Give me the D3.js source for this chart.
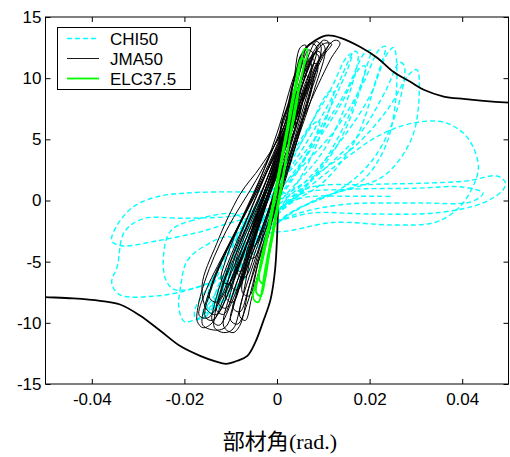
<!DOCTYPE html>
<html>
<head>
<meta charset="utf-8">
<script src="https://d3js.org/d3.v7.min.js"></script>
<style>
  body { margin: 0; background: #fff; }
  text { font-family: "Liberation Sans", Arial, sans-serif; }
</style>
</head>
<body>
<svg width="510" height="457"></svg>
<script>
// ---- data (rad., force) ----
var seriesNames = ["CHI50", "JMA50", "ELC37.5"];
var xTicks = [-0.04, -0.02, 0, 0.02, 0.04];
var xTickLabels = ["-0.04", "-0.02", "0", "0.02", "0.04"];
var yTicks = [-15, -10, -5, 0, 5, 10, 15];
var yTickLabels = ["-15", "-10", "-5", "0", "5", "10", "15"];

// CHI50 : cyan dashed loops
var chi50Loops = [
  [[-0.0150,-9.3],[-0.0120,-7.5],[-0.0060,-3.5],[0.0020,-0.5],[0.0100,1.5],[0.0170,5.0],[0.0215,10.0],[0.0234,12.6],[0.0220,12.3],[0.0185,9.5],[0.0130,6.0],[0.0060,3.0],[-0.0020,0.0],[-0.0100,-3.5],[-0.0145,-7.5]],
  [[-0.0130,-9.0],[-0.0090,-6.0],[-0.0020,-2.5],[0.0080,0.0],[0.0180,1.5],[0.0235,4.5],[0.0258,9.0],[0.0252,12.5],[0.0238,12.0],[0.0200,8.5],[0.0140,5.0],[0.0060,1.5],[-0.0030,-1.5],[-0.0100,-5.0],[-0.0135,-8.0]],
  [[-0.0100,-8.0],[-0.0060,-5.0],[0.0010,-1.5],[0.0120,0.5],[0.0230,2.0],[0.0290,5.0],[0.0307,8.5],[0.0302,10.7],[0.0285,10.3],[0.0240,7.5],[0.0170,4.5],[0.0080,2.0],[-0.0010,-0.5],[-0.0080,-4.5]],
  [[-0.0160,-9.6],[-0.0130,-8.0],[-0.0070,-4.0],[0.0000,-1.0],[0.0080,2.0],[0.0150,6.5],[0.0190,10.5],[0.0202,12.3],[0.0188,12.0],[0.0150,9.0],[0.0100,6.0],[0.0030,2.5],[-0.0050,-1.0],[-0.0120,-5.5],[-0.0158,-8.8]],
  [[-0.0175,-9.7],[-0.0140,-8.5],[-0.0080,-4.5],[-0.0010,-0.5],[0.0060,3.5],[0.0120,8.0],[0.0155,11.0],[0.0162,12.0],[0.0150,11.7],[0.0115,9.0],[0.0060,5.5],[0.0000,2.0],[-0.0070,-2.0],[-0.0140,-6.5],[-0.0178,-9.0]],
  [[-0.0120,-8.5],[-0.0080,-5.5],[-0.0020,-2.0],[0.0060,1.0],[0.0130,4.5],[0.0175,8.5],[0.0190,11.0],[0.0178,10.8],[0.0140,8.0],[0.0080,4.5],[0.0010,1.0],[-0.0060,-3.0],[-0.0115,-7.0]],
  [[-0.0110,-7.0],[-0.0070,-4.5],[0.0000,-1.0],[0.0060,2.5],[0.0100,6.0],[0.0122,9.0],[0.0110,8.8],[0.0070,6.0],[0.0020,2.5],[-0.0050,-1.5],[-0.0105,-5.5]],
  [[-0.0150,-8.5],[-0.0100,-5.5],[-0.0040,-2.0],[0.0030,1.5],[0.0075,4.5],[0.0092,6.5],[0.0080,6.3],[0.0040,4.0],[-0.0020,1.0],[-0.0090,-3.0],[-0.0145,-7.0]],
  [[-0.0060,-4.0],[0.0030,-1.0],[0.0140,1.0],[0.0210,3.5],[0.0260,7.5],[0.0275,11.0],[0.0265,11.3],[0.0235,9.0],[0.0180,5.5],[0.0100,2.5],[0.0010,-0.5]],
  [[-0.0140,-9.0],[-0.0100,-6.5],[-0.0050,-3.0],[0.0020,0.5],[0.0090,3.5],[0.0140,7.0],[0.0175,12.0],[0.0168,12.2],[0.0120,8.5],[0.0060,4.5],[-0.0010,0.5],[-0.0080,-3.5]],
  [[-0.0040,-2.5],[0.0050,0.5],[0.0150,3.5],[0.0220,5.3],[0.0290,6.3],[0.0360,6.4],[0.0410,5.2],[0.0435,2.8],[0.0420,0.9],[0.0390,-0.7],[0.0340,-1.8],[0.0250,-2.0],[0.0120,-1.8],[0.0020,-2.5]],
  [[0.0000,-1.5],[0.0060,0.9],[0.0200,1.3],[0.0300,1.4],[0.0410,1.6],[0.0475,2.0],[0.0493,1.5],[0.0489,0.9],[0.0445,-0.2],[0.0346,-1.0],[0.0200,-1.1],[0.0080,-1.0]],
  [[-0.0020,-2.0],[0.0050,0.5],[0.0150,0.9],[0.0300,1.0],[0.0400,1.1],[0.0445,0.6],[0.0420,-0.1],[0.0300,-0.2],[0.0150,-0.3],[0.0050,-1.0]],
  [[0.0020,0.5],[-0.0080,0.7],[-0.0200,0.6],[-0.0260,0.3],[-0.0310,-0.5],[-0.0345,-2.0],[-0.0357,-3.3],[-0.0335,-3.7],[-0.0260,-3.3],[-0.0170,-2.6],[-0.0080,-1.6],[0.0000,-1.0]],
  [[-0.0030,-0.8],[-0.0100,-1.3],[-0.0200,-1.45],[-0.0290,-1.5],[-0.0330,-2.6],[-0.0345,-5.4],[-0.0357,-6.7],[-0.0340,-7.7],[-0.0260,-7.8],[-0.0190,-7.3],[-0.0128,-6.4],[-0.0080,-5.0]],
  [[-0.0080,-1.3],[-0.0180,-1.6],[-0.0230,-2.5],[-0.0245,-4.5],[-0.0240,-6.5],[-0.0220,-7.3],[-0.0150,-6.8],[-0.0090,-5.5]],
  [[-0.0100,-3.0],[-0.0160,-3.8],[-0.0195,-5.0],[-0.0208,-7.0],[-0.0212,-8.8],[-0.0200,-9.9],[-0.0180,-9.8],[-0.0150,-9.4],[-0.0110,-8.0],[-0.0060,-5.5]]
];
// last piece of the CHI50 record (open end)
var chi50Tail = [[-0.0040,-3.0],[0.0010,-0.5],[0.0060,0.25],[0.0150,0.35],[0.0250,0.33]];

// JMA50 : thin black loops
var jma50Loops = [
  [[-0.0172,-9.9],[-0.0160,-10.4],[-0.0140,-10.0],[-0.0110,-7.5],[-0.0060,-3.0],[-0.0010,1.5],[0.0050,7.5],[0.0100,11.8],[0.0118,12.8],[0.0100,12.8],[0.0060,10.5],[0.0020,6.5],[-0.0040,2.0],[-0.0110,-2.5],[-0.0155,-6.5],[-0.0172,-9.0]],
  [[-0.0160,-10.2],[-0.0130,-10.6],[-0.0110,-10.3],[-0.0085,-7.5],[-0.0045,-3.5],[0.0000,1.0],[0.0060,7.0],[0.0115,11.5],[0.0136,12.9],[0.0125,13.1],[0.0090,11.5],[0.0050,8.0],[0.0000,4.0],[-0.0060,-0.5],[-0.0120,-5.0],[-0.0155,-8.5]],
  [[-0.0135,-10.4],[-0.0115,-10.8],[-0.0095,-10.5],[-0.0075,-8.0],[-0.0040,-4.0],[0.0005,0.5],[0.0040,4.5],[0.0080,9.0],[0.0104,12.4],[0.0095,12.9],[0.0070,11.5],[0.0030,7.0],[-0.0020,2.5],[-0.0075,-2.5],[-0.0115,-6.5],[-0.0135,-9.5]],
  [[-0.0115,-10.3],[-0.0095,-10.8],[-0.0080,-10.2],[-0.0060,-7.0],[-0.0030,-3.0],[0.0010,1.5],[0.0050,6.0],[0.0080,10.0],[0.0095,12.6],[0.0085,13.0],[0.0060,11.0],[0.0025,6.5],[-0.0020,1.5],[-0.0065,-3.5],[-0.0100,-7.5]],
  [[-0.0168,-9.4],[-0.0150,-9.6],[-0.0120,-8.0],[-0.0070,-4.0],[-0.0020,0.5],[0.0030,5.5],[0.0070,10.0],[0.0085,12.6],[0.0070,12.8],[0.0040,10.5],[0.0000,5.5],[-0.0050,0.5],[-0.0110,-4.0],[-0.0155,-7.5]],
  [[-0.0150,-9.0],[-0.0130,-9.3],[-0.0100,-7.0],[-0.0060,-3.0],[-0.0010,2.5],[0.0030,7.5],[0.0055,11.5],[0.0062,12.7],[0.0050,12.5],[0.0035,9.5],[0.0015,6.0],[-0.0035,2.8],[-0.0080,0.5],[-0.0130,-3.5],[-0.0162,-7.0]],
  [[-0.0100,-9.8],[-0.0085,-10.1],[-0.0065,-8.5],[-0.0040,-5.0],[0.0000,0.0],[0.0040,5.0],[0.0075,9.5],[0.0090,11.8],[0.0080,12.0],[0.0055,9.5],[0.0020,5.0],[-0.0025,0.0],[-0.0065,-4.5],[-0.0090,-8.0]],
  [[-0.0100,-7.0],[-0.0085,-7.3],[-0.0060,-5.0],[-0.0020,-1.0],[0.0020,3.5],[0.0055,8.0],[0.0070,10.0],[0.0060,10.2],[0.0035,7.5],[0.0000,3.5],[-0.0045,-1.0],[-0.0085,-5.0]],
  [[-0.0085,-6.0],[-0.0070,-6.3],[-0.0045,-4.0],[-0.0010,0.0],[0.0030,4.5],[0.0055,8.5],[0.0048,8.8],[0.0025,6.0],[-0.0010,2.0],[-0.0050,-2.0],[-0.0075,-4.8]],
  [[-0.0125,-8.5],[-0.0110,-8.8],[-0.0085,-6.5],[-0.0050,-2.5],[-0.0005,2.0],[0.0040,7.0],[0.0075,11.0],[0.0068,11.4],[0.0040,8.5],[0.0005,4.5],[-0.0045,-0.5],[-0.0095,-4.5],[-0.0120,-7.5]],
  [[-0.0140,-9.8],[-0.0125,-10.2],[-0.0100,-8.5],[-0.0065,-5.0],[-0.0020,0.0],[0.0035,6.0],[0.0085,11.0],[0.0112,12.9],[0.0100,13.1],[0.0075,11.5],[0.0040,8.0],[-0.0010,3.5],[-0.0060,-1.0],[-0.0110,-5.5],[-0.0135,-8.5]],
  [[-0.0080,-9.5],[-0.0068,-9.8],[-0.0055,-8.0],[-0.0030,-4.5],[0.0005,0.5],[0.0045,6.0],[0.0080,10.5],[0.0095,12.0],[0.0085,12.2],[0.0060,10.0],[0.0030,6.0],[-0.0015,1.0],[-0.0050,-3.5],[-0.0072,-7.5]],
  [[-0.0065,-4.5],[-0.0050,-4.7],[-0.0025,-2.0],[0.0010,2.5],[0.0040,6.5],[0.0034,6.8],[0.0010,4.0],[-0.0025,0.0],[-0.0055,-3.0]],
  [[-0.0155,-9.5],[-0.0140,-9.8],[-0.0110,-8.0],[-0.0075,-4.5],[-0.0030,0.0],[0.0020,5.5],[0.0060,10.0],[0.0078,12.0],[0.0068,12.3],[0.0045,10.0],[0.0010,6.0],[-0.0040,1.5],[-0.0095,-3.0],[-0.0140,-7.0]],
  [[-0.0090,-5.5],[-0.0078,-5.8],[-0.0055,-3.5],[-0.0020,0.5],[0.0015,4.0],[0.0035,6.5],[0.0028,6.6],[0.0005,3.8],[-0.0030,0.5],[-0.0065,-2.5],[-0.0088,-4.8]],
  [[-0.0110,-8.0],[-0.0095,-8.3],[-0.0070,-5.5],[-0.0040,-2.0],[-0.0005,1.5],[0.0030,5.0],[0.0050,7.5],[0.0043,7.8],[0.0015,5.0],[-0.0025,1.5],[-0.0070,-2.5],[-0.0105,-6.5]],
  [[-0.0075,-7.5],[-0.0060,-7.8],[-0.0040,-5.0],[-0.0010,-1.5],[0.0025,2.5],[0.0055,6.5],[0.0075,9.5],[0.0068,9.7],[0.0040,7.0],[0.0005,3.0],[-0.0030,-1.0],[-0.0060,-4.5]],
  [[-0.0120,-6.5],[-0.0105,-6.8],[-0.0075,-4.5],[-0.0040,-1.0],[0.0000,3.0],[0.0030,6.5],[0.0045,8.5],[0.0038,8.7],[0.0010,5.5],[-0.0030,2.0],[-0.0075,-1.5],[-0.0110,-4.8]],
  [[-0.0060,-3.5],[-0.0048,-3.7],[-0.0025,-1.5],[0.0000,1.5],[0.0025,4.5],[0.0020,4.7],[-0.0005,2.0],[-0.0030,-0.5],[-0.0055,-2.5]],
  [[-0.0130,-9.0],[-0.0115,-9.3],[-0.0090,-7.0],[-0.0055,-3.5],[-0.0015,1.0],[0.0025,5.5],[0.0060,9.5],[0.0080,11.5],[0.0072,11.7],[0.0045,9.0],[0.0010,5.0],[-0.0035,0.5],[-0.0085,-4.0],[-0.0122,-7.5]],
  [[-0.0095,-8.8],[-0.0080,-9.1],[-0.0060,-7.0],[-0.0030,-3.5],[0.0005,0.5],[0.0040,4.5],[0.0070,8.5],[0.0088,11.0],[0.0080,11.2],[0.0055,8.5],[0.0020,4.5],[-0.0020,0.0],[-0.0055,-4.0],[-0.0085,-7.5]],
  [[-0.0145,-8.0],[-0.0130,-8.3],[-0.0100,-6.0],[-0.0060,-2.5],[-0.0020,1.0],[0.0020,4.5],[0.0045,7.5],[0.0038,7.8],[0.0005,4.5],[-0.0040,1.0],[-0.0095,-3.0],[-0.0138,-6.5]]
];

// large black excursion (no legend entry)
var bigExcursion = [
  [-0.0560,-7.8],[-0.0501,-7.9],[-0.0440,-8.0],[-0.0382,-8.2],[-0.0339,-8.5],[-0.0296,-9.4],[-0.0252,-10.65],[-0.0209,-11.9],
  [-0.0166,-12.7],[-0.0133,-13.15],[-0.0110,-13.35],[-0.0086,-13.1],[-0.0064,-12.7],[-0.0047,-11.6],
  [-0.0030,-9.9],[-0.0014,-8.1],[-0.0004,-5.6],[0.0002,-1.0],[0.0004,2.5],[0.0006,5.2],[0.0011,6.4],
  [0.0024,7.8],[0.0033,9.3],[0.0042,10.5],[0.0050,11.7],[0.0066,12.6],[0.0083,13.1],[0.0098,13.4],
  [0.0111,13.5],[0.0137,13.3],[0.0180,12.55],[0.0217,11.65],[0.0252,10.5],[0.0288,9.7],[0.0317,9.05],
  [0.0360,8.5],[0.0403,8.3],[0.0446,8.15],[0.0505,8.0],[0.0560,7.9]
];

// ELC37.5 : green loops
var elc375Loops = [
  [[-0.0048,-8.2],[-0.0040,-8.3],[-0.0025,-5.5],[-0.0005,-1.5],[0.0015,2.5],[0.0035,6.5],[0.0055,10.5],[0.0066,12.3],[0.0060,12.4],[0.0045,10.0],[0.0025,6.0],[0.0005,2.0],[-0.0015,-2.0],[-0.0035,-5.5],[-0.0052,-7.8]],
  [[-0.0045,-7.5],[-0.0035,-7.8],[-0.0020,-5.0],[0.0000,-1.0],[0.0020,3.5],[0.0040,8.0],[0.0058,11.5],[0.0052,11.6],[0.0035,8.5],[0.0015,4.5],[-0.0005,0.5],[-0.0025,-3.5],[-0.0042,-6.5]],
  [[-0.0038,-6.5],[-0.0030,-6.8],[-0.0015,-4.0],[0.0005,0.0],[0.0025,4.5],[0.0045,9.0],[0.0040,9.2],[0.0022,6.0],[0.0002,2.0],[-0.0018,-2.0],[-0.0035,-5.0]]
];

var svg = d3.select("svg"),
    plotLeft = 45.5, plotRight = 508.5, plotTop = 17, plotBottom = 384;

var x = d3.scaleLinear().domain([-0.05, 0.05]).range([plotLeft, plotRight]);
var y = d3.scaleLinear().domain([-15, 15]).range([plotBottom, plotTop]);

svg.append("defs").append("clipPath").attr("id", "plotclip")
  .append("rect")
    .attr("x", plotLeft).attr("y", plotTop)
    .attr("width", plotRight - plotLeft).attr("height", plotBottom - plotTop);

var plot = svg.append("g").attr("clip-path", "url(#plotclip)");

var loopLine = d3.line()
    .x(function(d) { return x(d[0]); })
    .y(function(d) { return y(d[1]); })
    .curve(d3.curveCatmullRomClosed.alpha(0.5));

var openLine = d3.line()
    .x(function(d) { return x(d[0]); })
    .y(function(d) { return y(d[1]); })
    .curve(d3.curveCatmullRom.alpha(0.5));

// CHI50
plot.append("g").selectAll("path")
  .data(chi50Loops)
  .enter().append("path")
    .attr("fill", "none")
    .attr("stroke", "#00ffff")
    .attr("stroke-width", 1.4)
    .attr("stroke-dasharray", "5,3")
    .attr("d", loopLine);

plot.append("path")
  .attr("fill", "none")
  .attr("stroke", "#00ffff")
  .attr("stroke-width", 1.4)
  .attr("stroke-dasharray", "5,3")
  .attr("d", openLine(chi50Tail));

// JMA50
plot.append("g").selectAll("path")
  .data(jma50Loops)
  .enter().append("path")
    .attr("fill", "none")
    .attr("stroke", "#000")
    .attr("stroke-width", 1)
    .attr("d", loopLine);

plot.append("path")
  .attr("fill", "none")
  .attr("stroke", "#000")
  .attr("stroke-width", 1.8)
  .attr("d", openLine(bigExcursion));

// ELC37.5
plot.append("g").selectAll("path")
  .data(elc375Loops)
  .enter().append("path")
    .attr("fill", "none")
    .attr("stroke", "#00ff00")
    .attr("stroke-width", 1.8)
    .attr("d", loopLine);

// axes, ticks inward on all four sides
function styleAxis(g) {
  g.selectAll("text")
    .attr("fill", "#000")
    .style("font-size", "17px")
    .style("font-family", "'Liberation Sans', Arial, sans-serif");
  g.selectAll("line").attr("stroke", "#000");
  g.select(".domain").remove();
}

svg.append("g")
  .attr("transform", "translate(0," + plotBottom + ")")
  .call(d3.axisBottom(x).tickValues(xTicks)
        .tickFormat(function(d, i) { return xTickLabels[i]; })
        .tickSize(-5).tickPadding(9))
  .call(styleAxis);

svg.append("g")
  .attr("transform", "translate(0," + plotTop + ")")
  .call(d3.axisTop(x).tickValues(xTicks).tickFormat("").tickSize(-5))
  .call(styleAxis);

svg.append("g")
  .attr("transform", "translate(" + plotLeft + ",0)")
  .call(d3.axisLeft(y).tickValues(yTicks)
        .tickFormat(function(d, i) { return yTickLabels[i]; })
        .tickSize(-5).tickPadding(4))
  .call(styleAxis);

svg.append("g")
  .attr("transform", "translate(" + plotRight + ",0)")
  .call(d3.axisRight(y).tickValues(yTicks).tickFormat("").tickSize(-5))
  .call(styleAxis);

svg.append("rect")
  .attr("x", plotLeft).attr("y", plotTop)
  .attr("width", plotRight - plotLeft).attr("height", plotBottom - plotTop)
  .attr("fill", "none").attr("stroke", "#000").attr("stroke-width", 1);

// x axis title
var xt = svg.append("text")
  .attr("x", 280).attr("y", 449)
  .attr("text-anchor", "middle")
  .style("font-size", "22px")
  .attr("fill", "#000");
xt.append("tspan").style("font-family", "'Noto Sans CJK JP', sans-serif").text("部材角");
xt.append("tspan").style("font-family", "'Liberation Serif', 'Times New Roman', serif").text("(rad.)");

// legend
var legendStyles = [
  {color: "#00ffff", dash: "5,3", width: 1.4},
  {color: "#000", dash: null, width: 0.9},
  {color: "#00ff00", dash: null, width: 1.8}
];
var legend = svg.append("g");
legend.append("rect")
  .attr("x", 57.5).attr("y", 27.5).attr("width", 133).attr("height", 62)
  .attr("fill", "#fff").attr("stroke", "#000").attr("stroke-width", 1);

seriesNames.forEach(function(name, i) {
  var cy = 38.5 + i * 20;
  legend.append("line")
    .attr("x1", 67).attr("x2", 99).attr("y1", cy).attr("y2", cy)
    .attr("stroke", legendStyles[i].color)
    .attr("stroke-width", legendStyles[i].width)
    .attr("stroke-dasharray", legendStyles[i].dash);
  legend.append("text")
    .attr("x", 110).attr("y", cy + 6)
    .style("font-size", "17px")
    .attr("fill", "#000")
    .text(name);
});
</script>
</body>
</html>
